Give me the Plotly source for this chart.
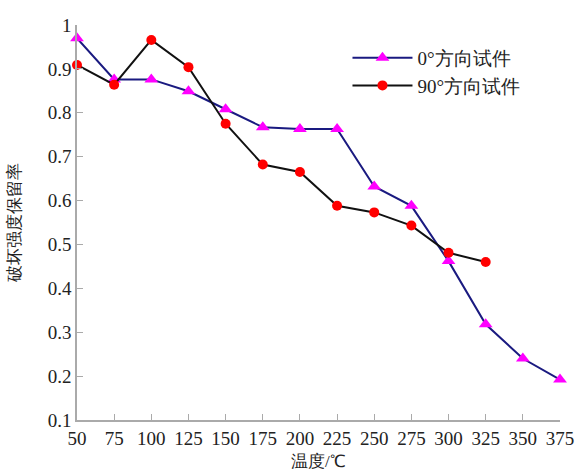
import plotly.graph_objects as go

temps_0 = [50, 75, 100, 125, 150, 175, 200, 225, 250, 275, 300, 325, 350, 375]
ret_0 = [0.970, 0.876, 0.876, 0.849, 0.808, 0.767, 0.763, 0.763, 0.632, 0.588, 0.462, 0.318, 0.240, 0.192]

temps_90 = [50, 75, 100, 125, 150, 175, 200, 225, 250, 275, 300, 325]
ret_90 = [0.909, 0.864, 0.966, 0.904, 0.775, 0.682, 0.665, 0.588, 0.573, 0.543, 0.481, 0.460]

x_ticks = [50, 75, 100, 125, 150, 175, 200, 225, 250, 275, 300, 325, 350, 375]
y_ticks = [0.1, 0.2, 0.3, 0.4, 0.5, 0.6, 0.7, 0.8, 0.9, 1.0]
y_labels = ["0.1", "0.2", "0.3", "0.4", "0.5", "0.6", "0.7", "0.8", "0.9", "1"]

FONT = "Liberation Serif"

fig = go.Figure()
fig.add_trace(go.Scatter(
    x=temps_0, y=ret_0, mode="lines+markers", name="0°方向试件",
    line=dict(color="#1a1a80", width=2),
    marker=dict(symbol="triangle-up", size=12, color="#ff00ff"),
    cliponaxis=False,
))
fig.add_trace(go.Scatter(
    x=temps_90, y=ret_90, mode="lines+markers", name="90°方向试件",
    line=dict(color="#111111", width=2),
    marker=dict(symbol="circle", size=10, color="#ff0000"),
    cliponaxis=False,
))

fig.update_layout(
    width=578, height=475,
    margin=dict(l=77, r=18, t=25, b=55),
    paper_bgcolor="white", plot_bgcolor="white",
    font=dict(family=FONT, size=19, color="#222222"),
    showlegend=True,
    legend=dict(x=0.56, y=0.965, xanchor="left", yanchor="top",
                bgcolor="rgba(0,0,0,0)", font=dict(size=19, family=FONT),
                tracegroupgap=6, itemwidth=60),
    xaxis=dict(range=[50, 375], tickvals=x_ticks, ticktext=[str(v) for v in x_ticks],
               showline=True, linecolor="#aaaaaa", linewidth=1.5, showgrid=False, zeroline=False,
               ticks="inside", ticklen=6, tickcolor="#aaaaaa", automargin=False,
               tickfont=dict(size=19, family=FONT)),
    yaxis=dict(range=[0.1, 1.0], tickvals=y_ticks, ticktext=y_labels,
               showline=True, linecolor="#aaaaaa", linewidth=1.5, showgrid=False, zeroline=False,
               ticks="inside", ticklen=6, tickcolor="#aaaaaa", automargin=False,
               tickfont=dict(size=19, family=FONT)),
    annotations=[
        dict(text="温度/℃", xref="paper", yref="paper", x=0.5, y=-0.075,
             xanchor="center", yanchor="top", showarrow=False,
             font=dict(size=17, family=FONT)),
        dict(text="破坏强度保留率", xref="paper", y=0.5, yref="paper", x=-0.13,
             xanchor="center", yanchor="middle", showarrow=False, textangle=-90,
             font=dict(size=17, family=FONT)),
    ],
)

fig.write_html("out.html")
